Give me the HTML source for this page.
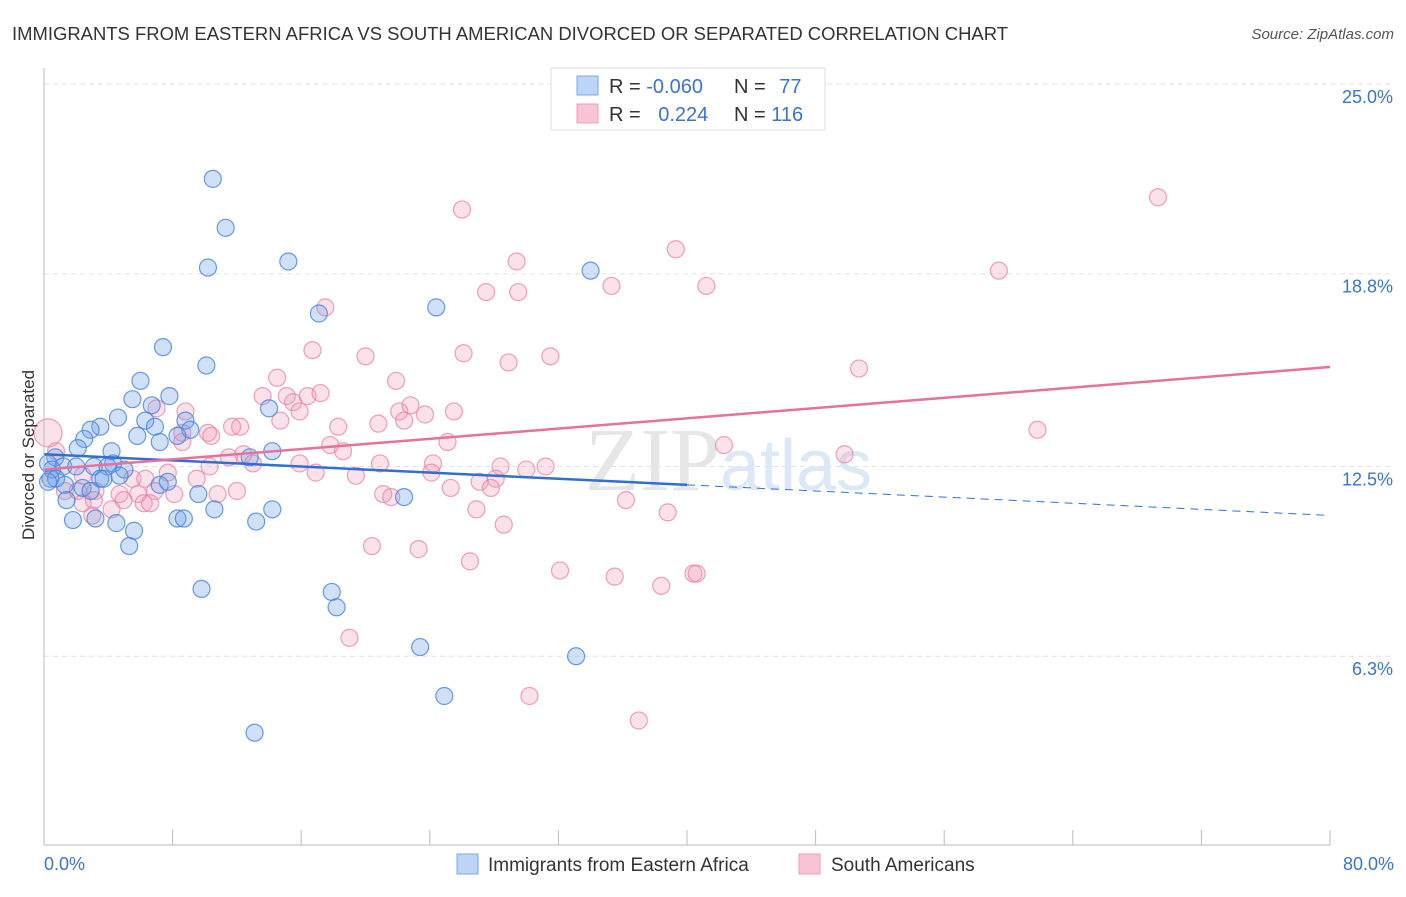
<!DOCTYPE html>
<html><head><meta charset="utf-8"><style>
body{margin:0;background:#fff;font-family:"Liberation Sans",sans-serif;}
</style></head><body>
<svg width="1406" height="892" viewBox="0 0 1406 892" xmlns="http://www.w3.org/2000/svg" font-family="Liberation Sans, sans-serif">
<text x="12" y="40" font-size="18" fill="#333" textLength="996" lengthAdjust="spacingAndGlyphs">IMMIGRANTS FROM EASTERN AFRICA VS SOUTH AMERICAN DIVORCED OR SEPARATED CORRELATION CHART</text>
<text x="1394" y="39" font-size="15" fill="#555" text-anchor="end" font-style="italic">Source: ZipAtlas.com</text>
<g id="grid"></g>
<text x="720" y="490" font-size="90" fill="#e6e6e6" text-anchor="end" font-family="Liberation Serif, serif">ZIP</text>
<text x="720" y="490" font-size="72" fill="#dce8f6">atlas</text>
<g id="pts"></g>
<g id="trend"></g>
<line x1="44" y1="68" x2="44" y2="845" stroke="#bbb"/>
<line x1="44" y1="845" x2="1330" y2="845" stroke="#bbb"/>
<g id="ticks"></g>
<text x="34" y="455" font-size="17" fill="#333" text-anchor="middle" transform="rotate(-90 34 455)">Divorced or Separated</text>
<text x="44" y="870" font-size="18" fill="#3b73d0">0.0%</text>
<text x="1394" y="870" font-size="18" fill="#3b73d0" text-anchor="end">80.0%</text>
<g>
<rect x="551" y="68" width="274" height="62" fill="#fff" stroke="#ddd"/>
<rect x="577" y="76" width="21" height="19" fill="#bcd4f5" stroke="#7fa8e6"/>
<rect x="577" y="104" width="21" height="19" fill="#f8c3d3" stroke="#ef9db8"/>
<text x="609" y="93" font-size="20" fill="#333">R = <tspan fill="#3b73d0">-0.060</tspan></text>
<text x="734" y="93" font-size="20" fill="#333">N = <tspan fill="#3b73d0" dx="8">77</tspan></text>
<text x="609" y="121" font-size="20" fill="#333">R = <tspan fill="#3b73d0" dx="12">0.224</tspan></text>
<text x="734" y="121" font-size="20" fill="#333">N = <tspan fill="#3b73d0">116</tspan></text>
</g>
<g>
<rect x="457" y="854" width="21" height="20" fill="#bcd4f5" stroke="#7fa8e6"/>
<text x="488" y="871" font-size="19" fill="#333">Immigrants from Eastern Africa</text>
<rect x="799" y="854" width="21" height="20" fill="#f8c3d3" stroke="#ef9db8"/>
<text x="831" y="871" font-size="19" fill="#333">South Americans</text>
</g>
</svg>
<script>
const yTicks=[25.0,18.8,12.5,6.3];
const yTickLabels=["25.0%","18.8%","12.5%","6.3%"];
const xTicks=[8,16,24,32,40,48,56,64,72,80];
const blueX=[10.5,11.3,10.2,15.2,34.0,24.4,17.1,7.4,10.1,6.0,7.8,5.5,6.7,14.0,4.6,6.3,8.8,3.5,9.1,6.9,2.9,2.5,5.8,8.3,7.2,4.2,2.1,14.2,12.8,0.7,0.25,1.2,0.5,4.3,3.1,2.0,3.95,5.0,4.7,0.4,0.75,1.3,3.5,3.7,2.4,2.9,7.2,7.7,9.6,1.4,22.4,10.6,14.2,1.8,3.2,4.5,8.3,8.7,13.2,5.6,5.3,9.8,17.9,18.2,23.4,33.1,24.9,13.1,0.25];
const blueY=[21.9,20.3,19.0,19.2,18.9,17.7,17.5,16.4,15.8,15.3,14.8,14.7,14.5,14.4,14.1,14.0,14.0,13.8,13.7,13.8,13.7,13.4,13.5,13.5,13.3,13.0,13.1,13.0,12.8,12.8,12.6,12.5,12.4,12.6,12.5,12.5,12.5,12.4,12.2,12.1,12.1,11.9,12.1,12.1,11.8,11.7,11.9,12.0,11.6,11.4,11.5,11.1,11.1,10.75,10.8,10.65,10.8,10.8,10.7,10.4,9.9,8.5,8.4,7.9,6.6,6.3,5.0,3.8,12.0];
const pinkX=[69.3,26.0,39.3,29.4,59.4,35.3,41.2,27.5,29.5,17.5,16.7,20.0,26.1,31.5,28.9,50.7,21.9,14.5,13.6,15.1,16.4,17.2,15.5,22.8,25.5,22.1,23.7,8.8,7.0,15.9,14.7,22.4,20.8,18.3,61.8,11.7,12.2,10.2,10.4,0.25,8.6,25.1,17.8,18.6,42.3,0.75,8.6,49.8,11.5,12.4,13.0,15.9,20.9,24.2,31.2,30.0,28.4,16.9,19.4,24.1,28.1,10.3,7.7,5.5,6.3,9.5,2.4,27.1,27.8,25.3,1.3,2.1,3.2,4.7,5.85,6.9,8.1,10.8,12.0,21.1,21.6,36.2,2.4,3.1,4.95,6.2,6.6,4.2,26.9,38.8,3.0,28.6,20.4,23.3,26.5,32.1,35.5,40.4,40.6,38.4,19.0,30.2,37.0];
const pinkY=[21.3,20.9,19.6,19.2,18.9,18.4,18.4,18.2,18.2,17.7,16.3,16.1,16.2,16.1,15.9,15.7,15.3,15.4,14.8,14.8,14.8,14.9,14.6,14.5,14.3,14.3,14.2,14.3,14.4,14.3,14.0,14.0,13.9,13.8,13.7,13.8,13.8,13.6,13.5,13.6,13.6,13.3,13.2,13.0,13.2,13.0,13.3,12.9,12.8,12.9,12.6,12.6,12.6,12.6,12.5,12.4,12.5,12.3,12.2,12.3,12.1,12.5,12.3,12.1,12.1,12.1,12.2,12.0,11.8,11.8,11.7,11.7,11.7,11.6,11.6,11.7,11.6,11.6,11.7,11.6,11.5,11.4,11.3,11.4,11.4,11.3,11.3,11.1,11.1,11.0,10.9,10.6,9.9,9.8,9.4,9.1,8.9,9.0,9.0,8.6,6.9,5.0,4.2];
const blueTrend=[12.9,10.9];
const pinkTrend=[12.4,15.75];
const blueSolidEnd=40;
const NS="http://www.w3.org/2000/svg";
const xs=v=>44+v*(1286/80);
const ys=v=>849-v*30.6;
function mk(tag,attrs,parent){const e=document.createElementNS(NS,tag);for(const k in attrs)e.setAttribute(k,attrs[k]);parent.appendChild(e);return e;}
const grid=document.getElementById('grid');
yTicks.forEach((t,i)=>{
 const l=mk('line',{x1:44,y1:ys(t),x2:1394,y2:ys(t),stroke:'#e2e2e2','stroke-dasharray':'5,4'},grid);
 
 
 const tx=mk('text',{x:1393,y:ys(t)+19,'font-size':18,fill:'#3b73d0','text-anchor':'end'},grid);
 tx.textContent=yTickLabels[i];
 
 
});
const ticks=document.getElementById('ticks');
xTicks.forEach((t)=>{
 const l=mk('line',{x1:xs(t),y1:830,x2:xs(t),y2:845,stroke:'#bbb'},ticks);
 
 
});
const pts=document.getElementById('pts');
pinkX.forEach((x,i)=>{
 const c=mk('circle',{cx:xs(x),cy:ys(pinkY[i]),r:(i===39?14:8.5),fill:'rgba(242,150,180,0.28)',stroke:'rgba(232,130,165,0.75)','stroke-width':1.2},pts);
 
 
});
blueX.forEach((x,i)=>{
 const c=mk('circle',{cx:xs(x),cy:ys(blueY[i]),r:8.5,fill:'rgba(110,160,230,0.32)',stroke:'rgba(70,130,220,0.8)','stroke-width':1.2},pts);
 
 
});
const tr=document.getElementById('trend');
const by=x=>blueTrend[0]+(blueTrend[1]-blueTrend[0])*x/80;
const b1=mk('line',{x1:xs(0),y1:ys(by(0)),x2:xs(blueSolidEnd),y2:ys(by(blueSolidEnd)),stroke:'#2f6fd6','stroke-width':2.5},tr);


const b2=mk('line',{x1:xs(blueSolidEnd),y1:ys(by(blueSolidEnd)),x2:xs(80),y2:ys(by(80)),stroke:'#2f6fd6','stroke-width':1,'stroke-dasharray':'8,6'},tr);


const p1=mk('line',{x1:xs(0),y1:ys(pinkTrend[0]),x2:xs(80),y2:ys(pinkTrend[1]),stroke:'#e8709a','stroke-width':2.5},tr);


</script>
</body></html>
